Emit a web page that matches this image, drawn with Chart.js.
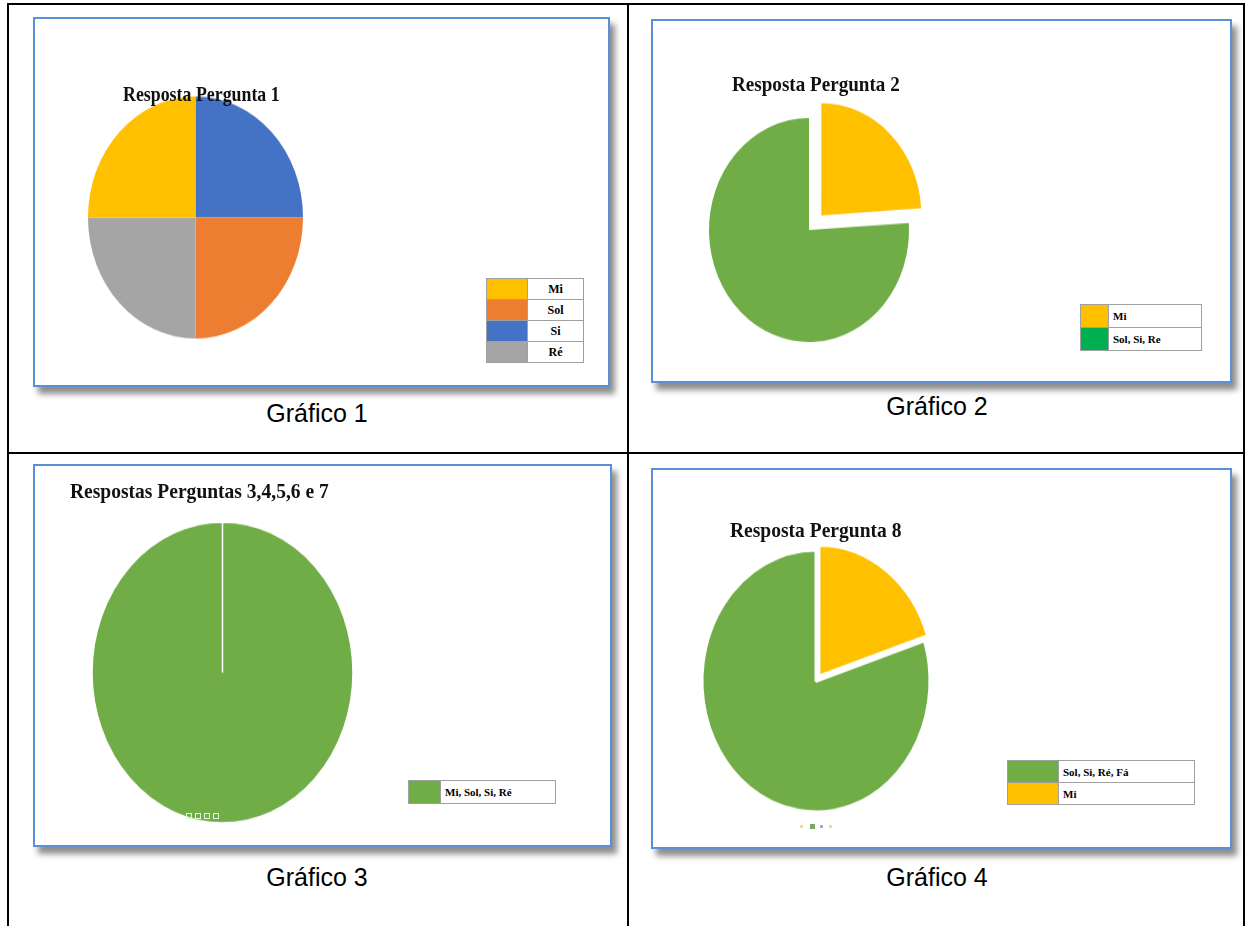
<!DOCTYPE html>
<html>
<head>
<meta charset="utf-8">
<script src="https://cdn.jsdelivr.net/npm/chart.js@4.4.0/dist/chart.umd.min.js"></script>
<style>
body{margin:0;background:#fff;width:1248px;height:926px;position:relative;overflow:hidden;font-family:"Liberation Serif","Times New Roman",serif}
.ln{position:absolute;background:#000}
.panel{position:absolute;border:2px solid #5b8fd6;box-shadow:5px 7px 6px rgba(0,0,0,.45);background:#fff;box-sizing:border-box}
.cap{position:absolute;font-family:"Liberation Sans",Arial,sans-serif;font-size:25px;transform:translate(-50%,-50%);white-space:nowrap;color:#000}
.ttl{position:absolute;z-index:5;font-weight:bold;font-size:21px;white-space:nowrap;transform-origin:left center;color:#111;line-height:1}
.pie{position:absolute}
table.lg{position:absolute;border-collapse:collapse;font-weight:bold;font-size:11px;background:#fff}
table.lg td{border:1px solid #a0a0a0;padding:0 4px;box-sizing:border-box}
.dot{position:absolute}
</style>
</head>
<body>

<!-- table lines -->
<div class="ln" style="left:7px;top:3px;width:2px;height:923px"></div>
<div class="ln" style="left:627px;top:3px;width:2px;height:923px"></div>
<div class="ln" style="left:1243px;top:3px;width:2px;height:923px"></div>
<div class="ln" style="left:7px;top:3px;width:1238px;height:2px"></div>
<div class="ln" style="left:7px;top:452px;width:1238px;height:2px"></div>

<!-- panels -->
<div class="panel" style="left:33px;top:17px;width:577px;height:370px"></div>
<div class="panel" style="left:651px;top:19px;width:581px;height:364px"></div>
<div class="panel" style="left:33px;top:464px;width:579px;height:383px"></div>
<div class="panel" style="left:651px;top:468px;width:581px;height:381px"></div>

<div class="ttl" style="left:123px;top:84px;transform:scaleX(.85)">Resposta Pergunta 1</div>
<div class="ttl" style="left:732px;top:74px;transform:scaleX(.91)">Resposta Pergunta 2</div>
<div class="ttl" style="left:70px;top:481px;transform:scaleX(.93)">Respostas Perguntas 3,4,5,6 e 7</div>
<div class="ttl" style="left:730px;top:520px;transform:scaleX(.93)">Resposta Pergunta 8</div>

<div class="pie" id="w1"><canvas id="pie1"></canvas></div>
<div class="pie" id="w2"><canvas id="pie2"></canvas></div>
<div class="pie" id="w3"><canvas id="pie3"></canvas></div>
<div class="pie" id="w4"><canvas id="pie4"></canvas></div>

<table class="lg" id="lg1" style="left:486px;top:278px;width:98px;font-size:12px"></table>
<table class="lg" id="lg2" style="left:1080px;top:304px;width:122px"></table>
<table class="lg" id="lg3" style="left:408px;top:780px;width:148px"></table>
<table class="lg" id="lg4" style="left:1007px;top:760px;width:188px"></table>

<!-- little handles under pies 3 and 4 -->
<div class="dot" style="left:186px;top:813px;width:4px;height:4px;border:1px solid #e8f2e0"></div>
<div class="dot" style="left:195px;top:813px;width:4px;height:4px;border:1px solid #e8f2e0"></div>
<div class="dot" style="left:204px;top:813px;width:4px;height:4px;border:1px solid #e8f2e0"></div>
<div class="dot" style="left:213px;top:813px;width:4px;height:4px;border:1px solid #e8f2e0"></div>
<div class="dot" style="left:800px;top:825px;width:3px;height:3px;background:#f3dc7a"></div>
<div class="dot" style="left:810px;top:824px;width:5px;height:5px;background:#7da862"></div>
<div class="dot" style="left:820px;top:825px;width:3px;height:3px;background:#a8b0c0"></div>
<div class="dot" style="left:829px;top:825px;width:3px;height:3px;background:#f3dc7a"></div>

<div class="cap" style="left:317px;top:413px">Gráfico 1</div>
<div class="cap" style="left:937px;top:406px">Gráfico 2</div>
<div class="cap" style="left:317px;top:877px">Gráfico 3</div>
<div class="cap" style="left:937px;top:877px">Gráfico 4</div>

<script>
// Gráfico 1
const pie1Labels = ['Si', 'Sol', 'Ré', 'Mi'];
const pie1Values = [25, 25, 25, 25];
const pie1Colors = ['#4472C4', '#ED7D31', '#A5A5A5', '#FFC000'];
const legend1Labels = ['Mi', 'Sol', 'Si', 'Ré'];
const legend1Colors = ['#FFC000', '#ED7D31', '#4472C4', '#A5A5A5'];

// Gráfico 2
const pie2Labels = ['Mi', 'Sol, Si, Re'];
const pie2Values = [24, 76];
const pie2Colors = ['#FFC000', '#70AD47'];
const legend2Labels = ['Mi', 'Sol, Si, Re'];
const legend2Colors = ['#FFC000', '#00B050'];

// Gráfico 3
const pie3Labels = ['Mi, Sol, Si, Ré'];
const pie3Values = [100];
const pie3Colors = ['#70AD47'];

// Gráfico 4
const pie4Labels = ['Mi', 'Sol, Si, Ré, Fá'];
const pie4Values = [20, 80];
const pie4Colors = ['#FFC000', '#70AD47'];
const legend4Labels = ['Sol, Si, Ré, Fá', 'Mi'];
const legend4Colors = ['#70AD47', '#FFC000'];

function makePie(id, wrap, cx, cy, rx, sy, labels, values, colors, offsets, border) {
    const W = Math.round(rx * 2 + 60);
    const el = document.getElementById(wrap);
    el.style.left = (cx - W / 2) + 'px';
    el.style.top = (cy - W / 2) + 'px';
    el.style.width = W + 'px';
    el.style.height = W + 'px';
    el.style.transform = 'scaleY(' + sy + ')';
    const cv = document.getElementById(id);
    cv.width = W;
    cv.height = W;

    new Chart(id, {
        type: 'pie',
        data: {
            labels: labels,
            datasets: [{
                data: values,
                backgroundColor: colors,
                borderColor: '#ffffff',
                borderWidth: border,
                offset: offsets
            }]
        },
        options: {
            responsive: false,
            animation: false,
            events: [],
            radius: rx,
            layout: { padding: 0 },
            plugins: {
                legend: { display: false },
                tooltip: { enabled: false }
            }
        }
    });
}

function makeLegend(id, labels, colors, swatchW, rowH, center) {
    const t = document.getElementById(id);
    labels.forEach((lab, i) => {
        const tr = document.createElement('tr');
        tr.style.height = rowH + 'px';
        const c = document.createElement('td');
        c.style.background = colors[i];
        c.style.width = swatchW + 'px';
        const l = document.createElement('td');
        l.textContent = lab;
        if (center) l.style.textAlign = 'center';
        tr.appendChild(c);
        tr.appendChild(l);
        t.appendChild(tr);
    });
}

makePie('pie1', 'w1', 195.5, 217, 107.5, 1.126, pie1Labels, pie1Values, pie1Colors, 0, 0);
makePie('pie2', 'w2', 809, 230, 100, 1.12, pie2Labels, pie2Values, pie2Colors, [72, 0], 0);
makePie('pie3', 'w3', 222.5, 672.5, 130.5, 1.153, pie3Labels, pie3Values, pie3Colors, 0, 1.5);
makePie('pie4', 'w4', 816, 681, 114, 1.15, pie4Labels, pie4Values, pie4Colors, [20, 0], 3);

makeLegend('lg1', legend1Labels, legend1Colors, 41, 21, true);
makeLegend('lg2', legend2Labels, legend2Colors, 28, 23, false);
makeLegend('lg3', pie3Labels, pie3Colors, 32, 23, false);
makeLegend('lg4', legend4Labels, legend4Colors, 51, 22, false);
</script>
</body>
</html>
